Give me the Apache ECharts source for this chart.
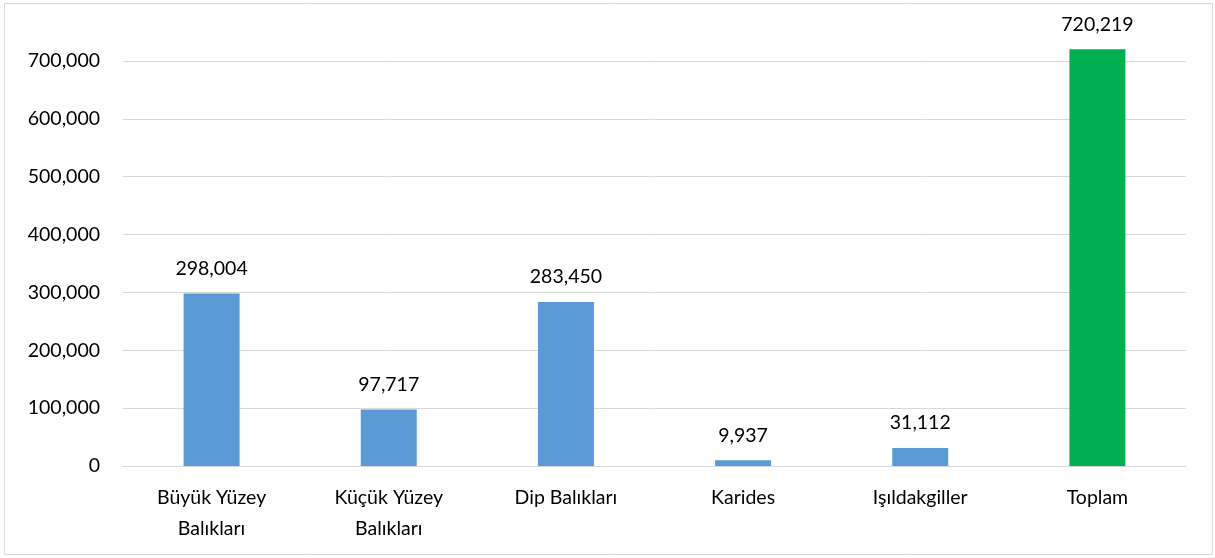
<!DOCTYPE html>
<html><head><meta charset="utf-8">
<script src="https://cdn.jsdelivr.net/npm/echarts@6/dist/echarts.min.js"></script>
<style>html,body{margin:0;padding:0;background:#fff}#c{width:1215px;height:558px}</style>
</head><body><div id="c"></div>
<script>
const categories = ['Büyük Yüzey\nBalıkları', 'Küçük Yüzey\nBalıkları', 'Dip Balıkları', 'Karides', 'Işıldakgiller', 'Toplam'];
const values = [298004, 97717, 283450, 9937, 31112, 720219];
const barColors = ['#5B9BD5', '#5B9BD5', '#5B9BD5', '#5B9BD5', '#5B9BD5', '#00B050'];
const font = 'Lato, "Open Sans", sans-serif';
const chart = echarts.init(document.getElementById('c'));
chart.setOption({
  animation: false,
  graphic: [{type: 'rect', shape: {x: 4.5, y: 3.5, width: 1208, height: 551}, style: {fill: 'none', stroke: '#d9d9d9', lineWidth: 1}, silent: true}],
  grid: {left: 123, right: 29, top: 61, bottom: 92, containLabel: false},
  xAxis: {
    type: 'category', data: categories,
    axisLine: {show: true, lineStyle: {color: '#d9d9d9', width: 1}},
    axisTick: {show: false},
    axisLabel: {color: '#000', fontSize: 19.5, fontFamily: font, lineHeight: 31, margin: 16, interval: 0}
  },
  yAxis: {
    type: 'value', min: 0, max: 700000, interval: 100000,
    axisLine: {show: false}, axisTick: {show: false},
    splitLine: {lineStyle: {color: '#d9d9d9', width: 1}},
    axisLabel: {color: '#000', fontSize: 19.5, fontFamily: font, margin: 23,
      formatter: v => v.toLocaleString('en-US')}
  },
  series: [{
    type: 'bar', clip: false, barWidth: 56,
    data: values.map((v, i) => ({value: v, itemStyle: {color: barColors[i]}})),
    label: {show: true, position: 'top', distance: 15, color: '#000', fontSize: 19.5, fontFamily: font,
      formatter: p => p.value.toLocaleString('en-US')}
  }]
});
</script></body></html>
